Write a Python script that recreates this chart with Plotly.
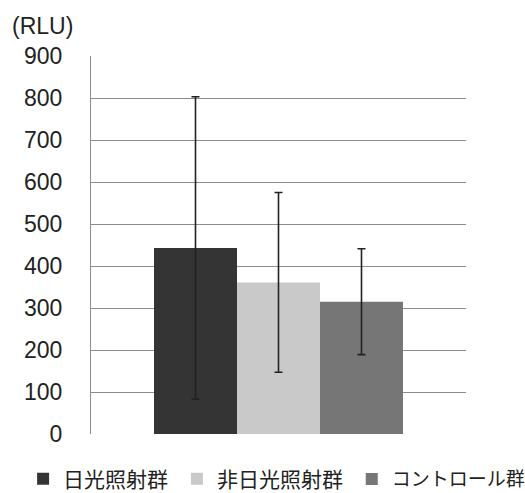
import plotly.graph_objects as go

groups = ["日光照射群", "非日光照射群", "コントロール群"]
means = [443, 361, 315]
errors = [360, 214, 126]
colors = ["#343434", "#c9c9c9", "#767676"]
y_ticks = [0, 100, 200, 300, 400, 500, 600, 700, 800, 900]

legend_ids = ["legend", "legend2", "legend3"]
legend_x = [0.044, 0.337, 0.670]
legend_size = [21, 21, 19]

fig = go.Figure()
for g, m, e, c, lid in zip(groups, means, errors, colors, legend_ids):
    fig.add_trace(go.Bar(
        x=[""], y=[m], name=g, legend=lid,
        marker=dict(color=c, line=dict(width=0)),
        error_y=dict(type="data", array=[e], visible=True, color="#222222",
                     thickness=1.6, width=4),
    ))

tick_font = "Liberation Sans, Arial, sans-serif"
layout_legends = {}
for lid, lx, ls in zip(legend_ids, legend_x, legend_size):
    layout_legends[lid] = dict(
        orientation="h", xref="container", yref="container",
        x=lx, xanchor="left", y=0.028, yanchor="middle",
        font=dict(family="Noto Sans CJK JP, sans-serif", size=ls, color="#222222"),
        itemwidth=30, bgcolor="rgba(0,0,0,0)")

fig.update_layout(
    width=525, height=493,
    margin=dict(l=91, r=59, t=56, b=59, autoexpand=False),
    barmode="group", bargap=0.336, bargroupgap=0,
    plot_bgcolor="white", paper_bgcolor="white",
    font=dict(family="Noto Sans CJK JP, sans-serif", size=18, color="#222222"),
    showlegend=True,
    xaxis=dict(showticklabels=False, showgrid=False, zeroline=False,
               showline=False, ticks=""),
    yaxis=dict(range=[0, 900], tickvals=y_ticks, showgrid=True,
               gridcolor="#8c8c8c", gridwidth=1, zeroline=False,
               showline=True, linecolor="#8c8c8c", linewidth=1,
               ticks="", ticklabelstandoff=23, automargin=False,
               tickfont=dict(family=tick_font, size=23, color="#222222")),
    **layout_legends,
)
fig.add_annotation(text="(RLU)", xref="paper", yref="paper", x=-0.215, y=1.04,
                   xanchor="left", yanchor="bottom", showarrow=False,
                   font=dict(family=tick_font, size=23, color="#222222"))
fig.write_html("out.html", config={"displayModeBar": False},
               post_script="document.body.style.margin='0';")
